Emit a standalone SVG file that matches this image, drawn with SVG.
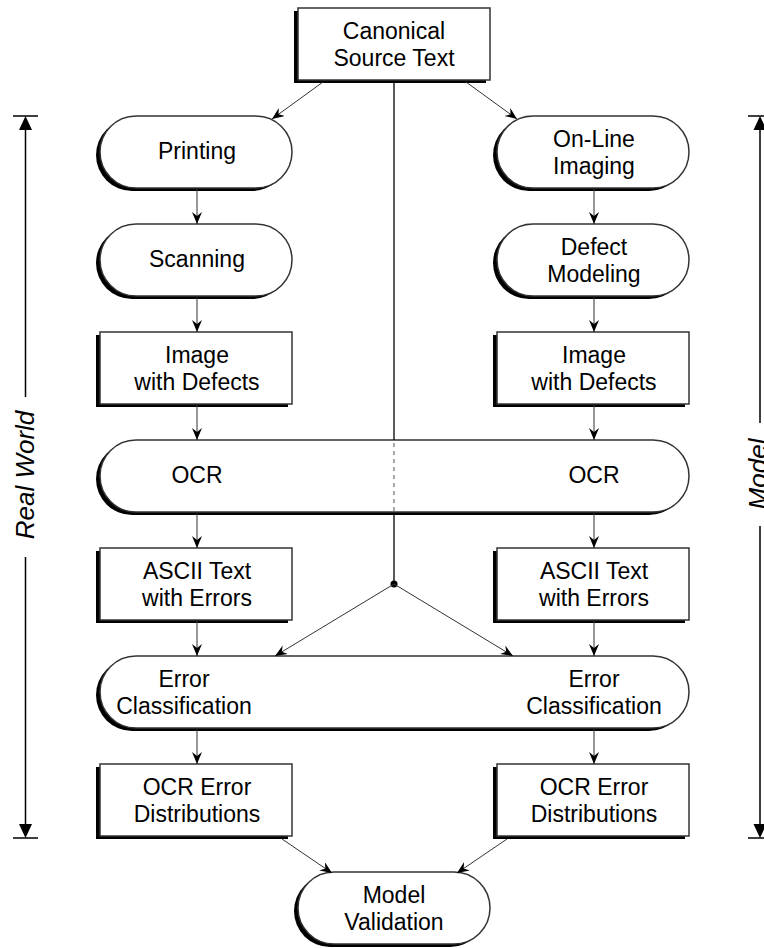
<svg xmlns="http://www.w3.org/2000/svg" width="764" height="948" viewBox="0 0 764 948">
<style>
.sh{fill:#000;stroke:none}
.nd{fill:#fff;stroke:#333;stroke-width:1.5}
.t{font-family:"Liberation Sans",Arial,sans-serif;font-size:23px;fill:#000;text-anchor:middle}
.ax{font-family:"Liberation Sans",Arial,sans-serif;font-size:26px;font-style:italic;fill:#000;text-anchor:middle}
.c{stroke:#333;stroke-width:1;fill:none}
.ca{stroke:#333;stroke-width:1;fill:none;marker-end:url(#ah)}
.axl{stroke:#000;stroke-width:1.5;fill:none}
</style>
<defs>
<marker id="ah" markerUnits="userSpaceOnUse" markerWidth="14" markerHeight="12" refX="12" refY="5" orient="auto">
<path d="M0,0 L12,5 L0,10 L4,5 z" fill="#000"/>
</marker>
<rect id="box" x="0" y="0" width="192" height="72"/>
<rect id="pill" x="0" y="0" width="192" height="72" rx="36" ry="36"/>
<rect id="wide" x="0" y="0" width="589" height="72" rx="36" ry="36"/>
</defs>

<g id="axis-real-world">
<path class="axl" d="M13,116 L38,116 M13,838 L38,838 M25.5,128 L25.5,397 M25.5,557 L25.5,826"/>
<path d="M25.5,116 L19,130 L32,130 z M25.5,838 L19,824 L32,824 z" fill="#000"/>
<text class="ax" transform="translate(34,475) rotate(-90)">Real World</text>
</g>
<g id="axis-model">
<path class="axl" d="M748,116 L772,116 M748,838 L772,838 M760,128 L760,423 M760,526 L760,826"/>
<path d="M760,116 L753.5,130 L766.5,130 z M760,838 L753.5,824 L766.5,824 z" fill="#000"/>
<text class="ax" transform="translate(767,474) rotate(-90)">Model</text>
</g>

<g id="canonical">
<use href="#box" class="sh" x="294" y="11"/><use href="#box" class="nd" x="298" y="8"/>
<text class="t" x="394" y="39">Canonical</text><text class="t" x="394" y="66">Source Text</text>
</g>
<g id="printing">
<use href="#pill" class="sh" x="96" y="119"/><use href="#pill" class="nd" x="100" y="116"/>
<text class="t" x="197" y="159">Printing</text>
</g>
<g id="online-imaging">
<use href="#pill" class="sh" x="493" y="119"/><use href="#pill" class="nd" x="497" y="116"/>
<text class="t" x="594" y="147">On-Line</text><text class="t" x="594" y="174">Imaging</text>
</g>
<g id="scanning">
<use href="#pill" class="sh" x="96" y="227"/><use href="#pill" class="nd" x="100" y="224"/>
<text class="t" x="197" y="267">Scanning</text>
</g>
<g id="defect-modeling">
<use href="#pill" class="sh" x="493" y="227"/><use href="#pill" class="nd" x="497" y="224"/>
<text class="t" x="594" y="255">Defect</text><text class="t" x="594" y="282">Modeling</text>
</g>
<g id="image-left">
<use href="#box" class="sh" x="96" y="335"/><use href="#box" class="nd" x="100" y="332"/>
<text class="t" x="197" y="363">Image</text><text class="t" x="197" y="390">with Defects</text>
</g>
<g id="image-right">
<use href="#box" class="sh" x="493" y="335"/><use href="#box" class="nd" x="497" y="332"/>
<text class="t" x="594" y="363">Image</text><text class="t" x="594" y="390">with Defects</text>
</g>
<g id="ocr">
<use href="#wide" class="sh" x="96" y="443"/><use href="#wide" class="nd" x="100" y="440"/>
<text class="t" x="197" y="483">OCR</text><text class="t" x="594" y="483">OCR</text>
</g>
<g id="ascii-left">
<use href="#box" class="sh" x="96" y="551"/><use href="#box" class="nd" x="100" y="548"/>
<text class="t" x="197" y="579">ASCII Text</text><text class="t" x="197" y="606">with Errors</text>
</g>
<g id="ascii-right">
<use href="#box" class="sh" x="493" y="551"/><use href="#box" class="nd" x="497" y="548"/>
<text class="t" x="594" y="579">ASCII Text</text><text class="t" x="594" y="606">with Errors</text>
</g>
<g id="error-classification">
<use href="#wide" class="sh" x="96" y="659"/><use href="#wide" class="nd" x="100" y="656"/>
<text class="t" x="184" y="687">Error</text><text class="t" x="184" y="714">Classification</text>
<text class="t" x="594" y="687">Error</text><text class="t" x="594" y="714">Classification</text>
</g>
<g id="ocr-dist-left">
<use href="#box" class="sh" x="96" y="767"/><use href="#box" class="nd" x="100" y="764"/>
<text class="t" x="197" y="795">OCR Error</text><text class="t" x="197" y="822">Distributions</text>
</g>
<g id="ocr-dist-right">
<use href="#box" class="sh" x="493" y="767"/><use href="#box" class="nd" x="497" y="764"/>
<text class="t" x="594" y="795">OCR Error</text><text class="t" x="594" y="822">Distributions</text>
</g>
<g id="model-validation">
<use href="#pill" class="sh" x="294" y="875"/><use href="#pill" class="nd" x="298" y="872"/>
<text class="t" x="394" y="903">Model</text><text class="t" x="394" y="930">Validation</text>
</g>

<g id="connectors">
<path class="ca" d="M323,82 L272,119"/>
<path class="ca" d="M466,82 L517,119"/>
<path class="ca" d="M197,189 L197,224"/>
<path class="ca" d="M197,297 L197,332"/>
<path class="ca" d="M197,405 L197,440"/>
<path class="ca" d="M197,513 L197,548"/>
<path class="ca" d="M197,621 L197,656"/>
<path class="ca" d="M197,729 L197,764"/>
<path class="ca" d="M594,189 L594,224"/>
<path class="ca" d="M594,297 L594,332"/>
<path class="ca" d="M594,405 L594,440"/>
<path class="ca" d="M594,513 L594,548"/>
<path class="ca" d="M594,621 L594,656"/>
<path class="ca" d="M594,729 L594,764"/>
<path class="c" d="M394,81 L394,440" style="stroke:#000;stroke-width:1.3"/>
<path class="c" d="M394,443 L394,511" style="stroke-dasharray:4 4;stroke:#555"/>
<path class="c" d="M394,514 L394,584" style="stroke:#000;stroke-width:1.3"/>
<circle cx="394" cy="584" r="3.5" fill="#000"/>
<path class="ca" d="M394,584 L275,656"/>
<path class="ca" d="M394,584 L513,656"/>
<path class="ca" d="M282,839 L332,873"/>
<path class="ca" d="M507,839 L457,873"/>
</g>
</svg>
